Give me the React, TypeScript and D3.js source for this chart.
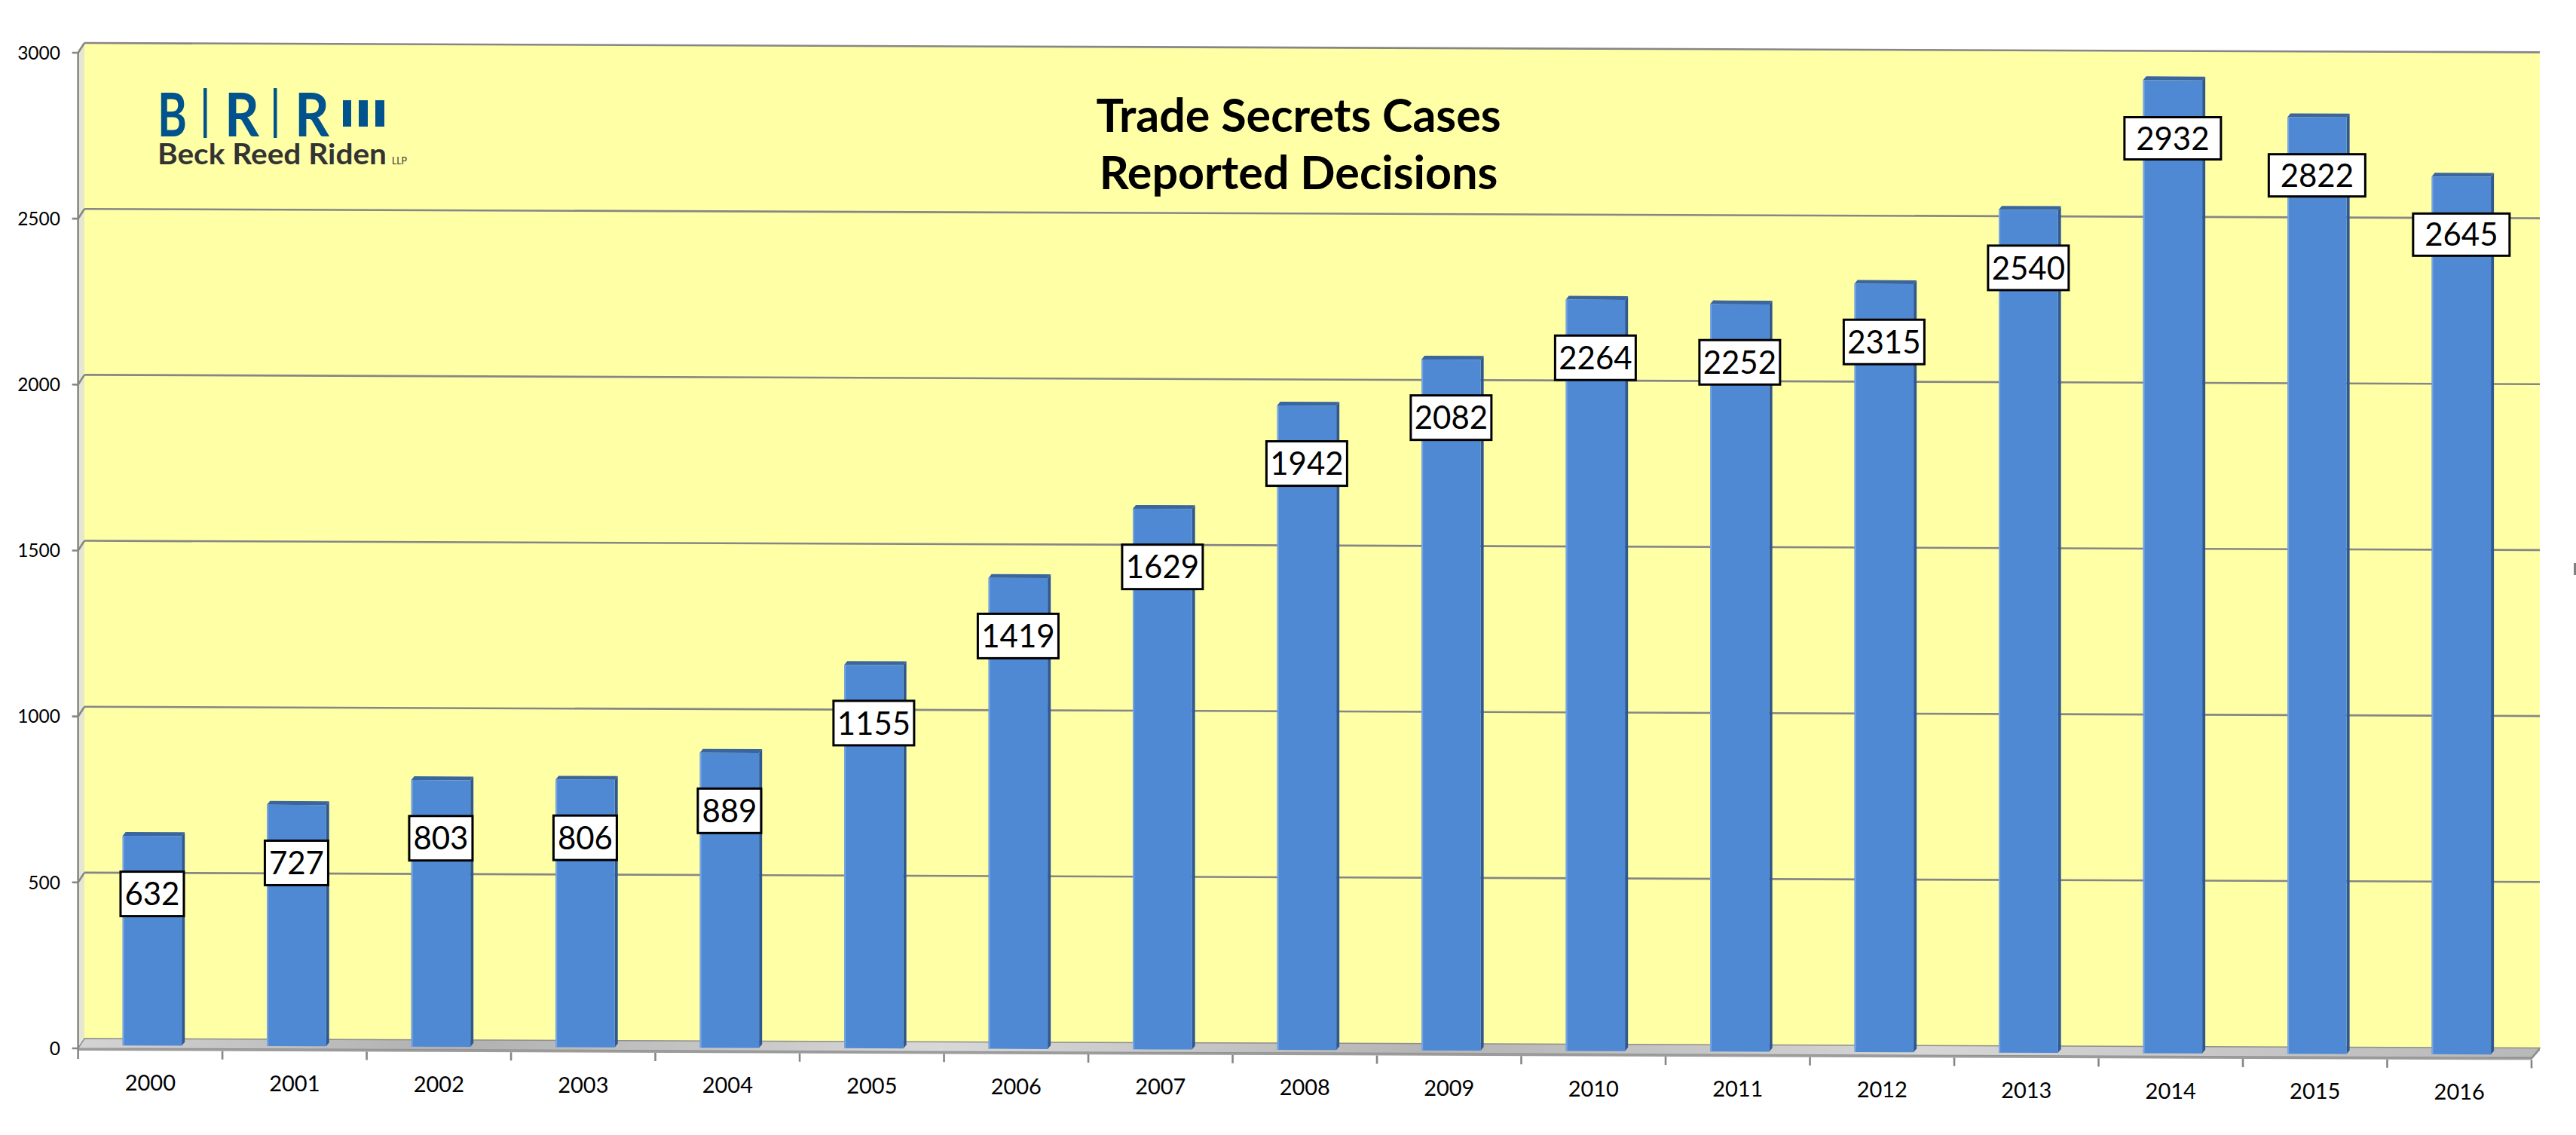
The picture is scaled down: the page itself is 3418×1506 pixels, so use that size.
import * as d3 from "d3";

// Reported trade secrets decisions per year
const years = [
    "2000", "2001", "2002", "2003", "2004", "2005", "2006", "2007", "2008",
    "2009", "2010", "2011", "2012", "2013", "2014", "2015", "2016",
];
const cases = [
    632, 727, 803, 806, 889, 1155, 1419, 1629, 1942, 2082, 2264, 2252, 2315,
    2540, 2932, 2822, 2645,
];
const yTicks = [0, 500, 1000, 1500, 2000, 2500, 3000];
const titleLines = ["Trade Secrets Cases", "Reported Decisions"];

const W = 3418;
const H = 1506;
const FONT = "Lato, 'Open Sans', sans-serif";

// front plane of the chart box
const X0 = 103.6;
const X1 = 3359;
const BASE = 1391;
// depth offset of the back wall
const DX = 8.4;
const DY = -13;
// slight tilt of the whole plot (px of y per px of x)
const SKEW = 0.0038;

const tilt = (x: number, y: number) => y + SKEW * (x - X0);

export default function App() {
    const x = d3.scaleBand<string>().domain(years).range([X0, X1]).padding(0);
    const h = d3.scaleLinear().domain([0, 3000]).range([0, 1321]);

    const bw = x.bandwidth();
    const barW = bw * 0.41;
    const barBase = BASE - 4;
    const bd = { dx: 4, dy: -5 };

    const backL = X0 + DX;
    const backR = X1 + 11;
    const backBase = BASE + DY;

    const bars = years.map((year, i) => {
        const xl = (x(year) as number) + (bw - barW) / 2 + 2.6;
        const xr = xl + barW;
        const yt = barBase - h(cases[i]);
        return { year, value: cases[i], xl, xr, yt };
    });

    const boundaries = years.map((yr) => x(yr) as number).concat([X1]);

    return (
        <div style={{ position: "absolute", left: 0, top: 0 }}>
            <svg width={W} height={H} viewBox={`0 0 ${W} ${H}`} style={{ display: "block", background: "#fff" }}>
                <defs>
                    <linearGradient id="floorGrad" x1="0" y1="0" x2="1" y2="0">
                        <stop offset="0" stopColor="#d4d4d4" />
                        <stop offset="0.15" stopColor="#b0b0b0" />
                        <stop offset="0.35" stopColor="#d8d8d8" />
                        <stop offset="0.55" stopColor="#b4b4b4" />
                        <stop offset="0.75" stopColor="#d6d6d6" />
                        <stop offset="1" stopColor="#b8b8b8" />
                    </linearGradient>
                </defs>

                <g transform={`matrix(1 ${SKEW} 0 1 0 ${-SKEW * X0})`}>
                    {/* back wall */}
                    <rect x={backL} y={backBase - h(3000)} width={backR - backL} height={h(3000)} fill="#ffffa6" />
                    {/* side wall */}
                    <polygon
                        points={`${X0},${BASE - h(3000)} ${backL},${backBase - h(3000)} ${backL},${backBase} ${X0},${BASE}`}
                        fill="#e6e7d0"
                    />
                    {/* gridlines */}
                    {yTicks.filter((t) => t > 0).map((t) => (
                        <g key={t} stroke="#868686" strokeWidth={2.6} fill="none">
                            <line x1={backL} x2={backR} y1={backBase - h(t)} y2={backBase - h(t)} />
                            <line x1={X0} x2={backL} y1={BASE - h(t)} y2={backBase - h(t)} />
                        </g>
                    ))}
                    {/* floor */}
                    <polygon
                        points={`${X0},${BASE} ${backL},${backBase} ${backR},${backBase} ${X1},${BASE}`}
                        fill="url(#floorGrad)"
                        stroke="#8e8e8e"
                        strokeWidth={1.5}
                    />
                    <polygon
                        points={`${X0},${BASE} ${X1},${BASE} ${X1},${BASE + 3} ${X0},${BASE + 3}`}
                        fill="#9c9c9c"
                    />
                    <polygon
                        points={`${X1},${BASE} ${backR},${backBase} ${backR},${backBase + 3} ${X1},${BASE + 3}`}
                        fill="#8c8c8c"
                    />
                    {/* value axis */}
                    <line x1={X0} x2={X0} y1={BASE - h(3000)} y2={BASE + 3} stroke="#868686" strokeWidth={2.6} />
                    {yTicks.map((t) => (
                        <line key={t} x1={X0 - 8} x2={X0} y1={BASE - h(t)} y2={BASE - h(t)} stroke="#868686" strokeWidth={2.6} />
                    ))}
                    {/* category ticks */}
                    {boundaries.map((bx, i) => (
                        <line key={i} x1={bx} x2={bx} y1={BASE + 3} y2={BASE + 14} stroke="#868686" strokeWidth={2.6} />
                    ))}
                    {/* bars */}
                    {bars.map((b) => (
                        <g key={b.year}>
                            <polygon
                                points={`${b.xr},${b.yt} ${b.xr + bd.dx},${b.yt + bd.dy} ${b.xr + bd.dx},${barBase + bd.dy} ${b.xr},${barBase}`}
                                fill="#2f5790"
                            />
                            <polygon
                                points={`${b.xl},${b.yt} ${b.xl + bd.dx},${b.yt + bd.dy} ${b.xr + bd.dx},${b.yt + bd.dy} ${b.xr},${b.yt}`}
                                fill="#3a659f"
                            />
                            <rect x={b.xl} y={b.yt} width={barW} height={barBase - b.yt} fill="#4f88d3" />
                            <line x1={b.xl + 1} x2={b.xl + 1} y1={b.yt} y2={barBase} stroke="#77a6e4" strokeWidth={2} />
                        </g>
                    ))}
                </g>

                {/* value labels */}
                {bars.map((b) => {
                    const cx = (b.xl + b.xr) / 2;
                    const cy = tilt(cx, b.yt + 77);
                    const digits = String(b.value).length;
                    const wide = +b.year >= 2014;
                    const boxW = digits === 3 ? 84 : wide ? 128 : 107;
                    const boxH = wide ? 56 : 59;
                    return (
                        <g key={b.year}>
                            <rect x={cx - boxW / 2} y={cy - boxH / 2} width={boxW} height={boxH} fill="#fff" stroke="#000" strokeWidth={3} />
                            <text x={cx} y={cy} dy="0.36em" textAnchor="middle" fontFamily={FONT} fontSize={42} fill="#000">
                                {b.value}
                            </text>
                        </g>
                    );
                })}

                {/* category labels */}
                {years.map((yr) => {
                    const cx = (x(yr) as number) + bw / 2;
                    return (
                        <text key={yr} x={cx} y={tilt(cx, 1447)} textAnchor="middle" fontFamily={FONT} fontSize={29} fill="#000">
                            {yr}
                        </text>
                    );
                })}

                {/* value axis labels */}
                {yTicks.map((t) => (
                    <text key={t} x={80} y={BASE - h(t)} dy="0.36em" textAnchor="end" fontFamily={FONT} fontSize={24.5} fill="#000">
                        {t}
                    </text>
                ))}

                {/* title */}
                {titleLines.map((line, i) => (
                    <text key={line} x={1723} y={175 + i * 76} textAnchor="middle" fontFamily={FONT} fontWeight={700} fontSize={61} fill="#000">
                        {line}
                    </text>
                ))}

                {/* firm logo */}
                <g fontFamily={FONT}>
                    <g fill="#00538c" fontSize={80} fontWeight={700}>
                        <text x={209} y={181} textLength={39} lengthAdjust="spacingAndGlyphs">B</text>
                        <text x={298} y={181} textLength={46} lengthAdjust="spacingAndGlyphs">R</text>
                        <text x={391} y={181} textLength={46} lengthAdjust="spacingAndGlyphs">R</text>
                        <rect x={270} y={117} width={4.5} height={66} />
                        <rect x={363} y={117} width={4.5} height={66} />
                        <rect x={455} y={133} width={11} height={35} />
                        <rect x={476} y={133} width={12} height={35} />
                        <rect x={498} y={133} width={12} height={35} />
                    </g>
                    <text x={209} y={218} fontSize={38} fontWeight={700} fill="#333" textLength={304} lengthAdjust="spacingAndGlyphs">
                        Beck Reed Riden
                    </text>
                    <text x={520} y={218} fontSize={12.5} fill="#333" textLength={20} lengthAdjust="spacingAndGlyphs">
                        LLP
                    </text>
                </g>

                {/* stray mark at the right edge */}
                <rect x={3415} y={747} width={3} height={16} fill="#808080" />
            </svg>
        </div>
    );
}
